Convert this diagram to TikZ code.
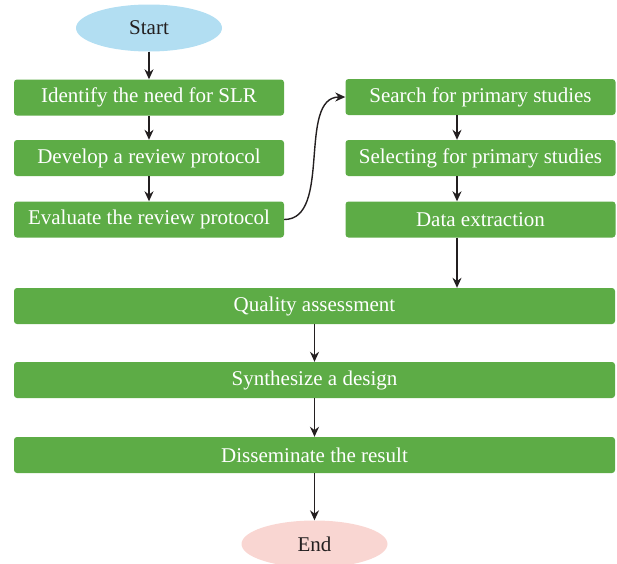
\documentclass[tikz,border=0pt]{standalone}
\usepackage{fontspec}
\setmainfont{Liberation Serif}
\usetikzlibrary{arrows.meta, positioning, shapes.geometric, calc}
\definecolor{stepgreen}{RGB}{93,172,70}
\definecolor{startblue}{RGB}{178,222,242}
\definecolor{endpink}{RGB}{249,214,210}
\definecolor{linegray}{RGB}{35,31,32}

\begin{document}
\begin{tikzpicture}[x=1pt, y=-1pt, font=\fontsize{21}{25}\selectfont,
  box/.style={fill=stepgreen, rounded corners=3pt, text=white, align=center,
              minimum height=36pt, minimum width=270pt, inner sep=2pt},
  wide/.style={box, minimum width=601pt},
  term/.style={ellipse, minimum width=146pt, minimum height=47pt,
               inner sep=1pt, text=linegray},
  a/.style={-{Stealth[length=10pt, width=9pt]}, draw=linegray, line width=1.4pt}]
\useasboundingbox (0,0) rectangle (617,563);
\node[term, fill=startblue] (start) at (149,28) {Start};
\node[box] (need) at (149,97.5) {Identify the need for SLR};
\node[box] (protocol) at (149,158) {Develop a review protocol};
\node[box] (evaluate) at (149,219.5) {Evaluate the review protocol};
\node[box] (search) at (480.5,97) {Search for primary studies};
\node[box] (select) at (480.5,158) {Selecting for primary studies};
\node[box] (extract) at (480.5,219.5) {Data extraction};
\node[wide] (quality) at (314.5,306) {Quality assessment};
\node[wide] (synth) at (314.5,380) {Synthesize a design};
\node[wide] (dissem) at (314.5,455) {Disseminate the result};
\node[term, fill=endpink] (end) at (314.5,544) {End};
\draw[a] (start) -- (need);
\draw[a] (need) -- (protocol);
\draw[a] (protocol) -- (evaluate);
\draw[a] (evaluate.east) to[out=0, in=180, looseness=0.9] (search.west);
\draw[a] ([xshift=-23.5pt]search.south) -- ([xshift=-23.5pt]select.north);
\draw[a] ([xshift=-23.5pt]select.south) -- ([xshift=-23.5pt]extract.north);
\draw[a] ([xshift=-23.5pt]extract.south) -- ([xshift=-23.5pt]extract.south |- quality.north);
\draw[a] (quality) -- (synth);
\draw[a] (synth) -- (dissem);
\draw[a] (dissem) -- (end);
\end{tikzpicture}
\end{document}
